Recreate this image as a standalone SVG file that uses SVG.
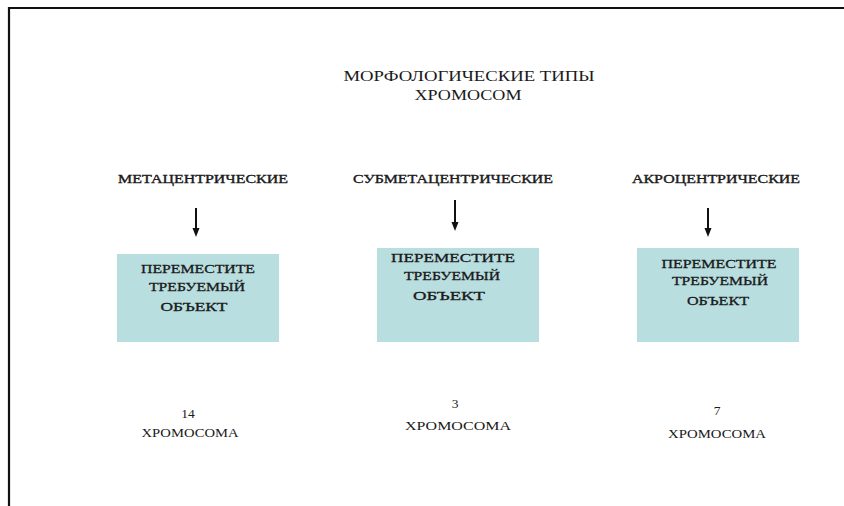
<svg xmlns="http://www.w3.org/2000/svg" width="844" height="506" viewBox="0 0 844 506" font-family="'Liberation Serif', 'DejaVu Serif', 'Times New Roman', serif">
<style>
text{font-family:"Liberation Serif","DejaVu Serif","Times New Roman",serif;fill:#1a1a1a;text-anchor:middle}
.t{font-size:15px}
.l{font-size:12.5px;stroke:#1a1a1a;stroke-width:0.35}
.b{font-size:13px;stroke:#1a1a1a;stroke-width:0.3}
.n{font-size:13.5px}
.box{fill:#b9dee0}
.arr{stroke:#111;stroke-width:2;fill:none}
.head{fill:#111}
</style>
<rect width="844" height="506" fill="#fff"/>
<path d="M9,506 V8 H844" fill="none" stroke="#111" stroke-width="2.2"/>
<g id="title">
<text class="t" x="469" y="81" textLength="251" lengthAdjust="spacingAndGlyphs">МОРФОЛОГИЧЕСКИЕ ТИПЫ</text>
<text class="t" x="468" y="100" textLength="107" lengthAdjust="spacingAndGlyphs">ХРОМОСОМ</text>
</g>
<g id="label1"><text class="l" x="203" y="183" textLength="170" lengthAdjust="spacingAndGlyphs">МЕТАЦЕНТРИЧЕСКИЕ</text></g>
<g id="label2"><text class="l" x="453" y="183" textLength="200" lengthAdjust="spacingAndGlyphs">СУБМЕТАЦЕНТРИЧЕСКИЕ</text></g>
<g id="label3"><text class="l" x="716" y="183" textLength="168" lengthAdjust="spacingAndGlyphs">АКРОЦЕНТРИЧЕСКИЕ</text></g>
<g id="connectors">
<line class="arr" x1="196" y1="208" x2="196" y2="230"/>
<path class="head" d="M192.5,228 L199.5,228 L196,237 Z"/>
<line class="arr" x1="455" y1="200" x2="455" y2="224"/>
<path class="head" d="M451.5,222 L458.5,222 L455,231 Z"/>
<line class="arr" x1="708" y1="208" x2="708" y2="230"/>
<path class="head" d="M704.5,228 L711.5,228 L708,237 Z"/>
</g>
<g id="box1">
<rect class="box" x="117" y="254" width="162" height="88"/>
<text class="b" x="198" y="273" textLength="114" lengthAdjust="spacingAndGlyphs">ПЕРЕМЕСТИТЕ</text>
<text class="b" x="197" y="291" textLength="96" lengthAdjust="spacingAndGlyphs">ТРЕБУЕМЫЙ</text>
<text class="b" x="194" y="311" textLength="67" lengthAdjust="spacingAndGlyphs">ОБЪЕКТ</text>
</g>
<g id="box2">
<rect class="box" x="377" y="248" width="162" height="94"/>
<text class="b" x="453" y="262" textLength="124" lengthAdjust="spacingAndGlyphs">ПЕРЕМЕСТИТЕ</text>
<text class="b" x="452" y="280" textLength="96" lengthAdjust="spacingAndGlyphs">ТРЕБУЕМЫЙ</text>
<text class="b" x="449" y="300" textLength="72" lengthAdjust="spacingAndGlyphs">ОБЪЕКТ</text>
</g>
<g id="box3">
<rect class="box" x="637" y="248" width="162" height="94"/>
<text class="b" x="719" y="268" textLength="115" lengthAdjust="spacingAndGlyphs">ПЕРЕМЕСТИТЕ</text>
<text class="b" x="720" y="285" textLength="96" lengthAdjust="spacingAndGlyphs">ТРЕБУЕМЫЙ</text>
<text class="b" x="718" y="305" textLength="62" lengthAdjust="spacingAndGlyphs">ОБЪЕКТ</text>
</g>
<g id="count1">
<text class="n" x="188" y="418">14</text>
<text class="n" x="190" y="437" textLength="97" lengthAdjust="spacingAndGlyphs">ХРОМОСОМА</text>
</g>
<g id="count2">
<text class="n" x="455" y="408">3</text>
<text class="n" x="458" y="430" textLength="106" lengthAdjust="spacingAndGlyphs">ХРОМОСОМА</text>
</g>
<g id="count3">
<text class="n" x="717" y="415">7</text>
<text class="n" x="717" y="438" textLength="98" lengthAdjust="spacingAndGlyphs">ХРОМОСОМА</text>
</g>
</svg>
